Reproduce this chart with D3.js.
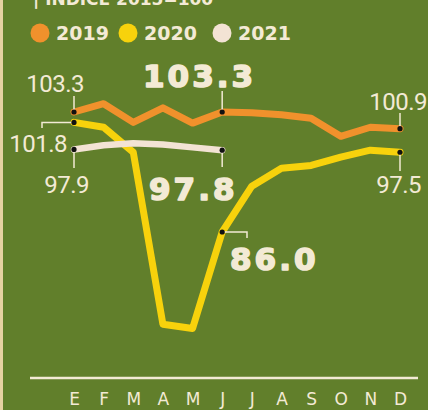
<!DOCTYPE html>
<html>
<head>
<meta charset="utf-8">
<script src="https://cdn.jsdelivr.net/npm/d3@7"></script>
<style>
  body { margin: 0; background: #617f2b; }
  svg { display: block; }
</style>
</head>
<body>
<svg id="chart"></svg>
<script>
const months = ["E", "F", "M", "A", "M", "J", "J", "A", "S", "O", "N", "D"];
const v2019 = [103.3, 104.5, 101.8, 103.9, 101.7, 103.3, 103.2, 102.9, 102.4, 99.8, 101.1, 100.9];
const v2020 = [101.8, 101.1, 97.5, 72.7, 72.1, 86.0, 92.6, 95.2, 95.6, 96.8, 97.8, 97.5];
const v2021 = [97.9, 98.5, 98.8, 98.6, 98.2, 97.8];
const years = ["2019", "2020", "2021"];

const w = 428;
const h = 410;
const colors = { "2019": "#f0912c", "2020": "#f7d20c", "2021": "#f3e3d4" };
const cream = "#f3ead5";

const svg = d3.select("#chart").attr("width", w).attr("height", h);

svg.append("rect").attr("width", w).attr("height", h).attr("fill", "#617f2b");
svg.append("rect").attr("width", 3).attr("height", h).attr("fill", "#e6d2a2");

const x = d3.scaleLinear().domain([0, 11]).range([74, 400]);
const y = d3.scaleLinear().domain([86, 103.3]).range([232, 112]);

// title, cut at the top like the original
svg.append("text")
  .attr("x", 33).attr("y", 5)
  .attr("fill", cream)
  .attr("font-family", "DejaVu Sans").attr("font-weight", "bold").attr("font-size", 17)
  .text("| INDICE 2015=100");

// legend
const legend = svg.append("g");
const lx = [40, 128, 222];
years.forEach((yr, i) => {
  legend.append("circle").attr("cx", lx[i]).attr("cy", 33).attr("r", 9.5).attr("fill", colors[yr]);
  legend.append("text")
    .attr("x", lx[i] + 16).attr("y", 40)
    .attr("fill", cream)
    .attr("font-family", "DejaVu Sans").attr("font-weight", "bold").attr("font-size", 19)
    .text(yr);
});

// axis
svg.append("line")
  .attr("x1", 30).attr("x2", 418).attr("y1", 378).attr("y2", 378)
  .attr("stroke", cream).attr("stroke-width", 2.5);

const xAxis = d3.axisBottom(x)
  .tickValues(d3.range(12))
  .tickFormat(i => months[i])
  .tickSize(0)
  .tickPadding(15);
const gx = svg.append("g")
  .attr("transform", "translate(0,378)")
  .call(xAxis);
gx.select(".domain").remove();
gx.selectAll("text")
  .attr("fill", cream)
  .attr("font-family", "DejaVu Sans")
  .attr("font-size", 17);

// lines
const line = d3.line()
  .x((d, i) => x(i))
  .y(d => y(d));

const series = [["2020", v2020, 7], ["2021", v2021, 6.5], ["2019", v2019, 7]];
series.forEach(([yr, vals, sw]) => {
  svg.append("path")
    .datum(vals)
    .attr("d", line)
    .attr("fill", "none")
    .attr("stroke", colors[yr])
    .attr("stroke-width", sw)
    .attr("stroke-linejoin", "round")
    .attr("stroke-linecap", "round");
});

// leaders
const leader = (pts) => svg.append("polyline")
  .attr("points", pts.map(p => p.join(",")).join(" "))
  .attr("fill", "none").attr("stroke", cream).attr("stroke-width", 1.5);

leader([[x(0), y(v2019[0])], [x(0), 96]]);
leader([[x(0), y(v2020[0])], [42, y(v2020[0])], [42, 128]]);
leader([[x(0), y(v2021[0])], [x(0), 168]]);
leader([[x(5), y(v2019[5])], [x(5), 91]]);
leader([[x(5), y(v2021[5])], [x(5), 167]]);
leader([[x(5), y(v2020[5])], [247, y(v2020[5])], [247, 238]]);
leader([[x(11), y(v2019[11])], [x(11), 113]]);
leader([[x(11), y(v2020[11])], [x(11), 171]]);

// dots
const dots = [[0, v2019[0]], [5, v2019[5]], [11, v2019[11]],
  [0, v2020[0]], [5, v2020[5]], [11, v2020[11]],
  [0, v2021[0]], [5, v2021[5]]];
svg.selectAll(".dot")
  .data(dots)
  .enter()
  .append("circle")
  .attr("class", "dot")
  .attr("cx", d => x(d[0]))
  .attr("cy", d => y(d[1]))
  .attr("r", 2.6)
  .attr("fill", "#111");

// small labels
const small = (tx, ty, anchor, val) => svg.append("text")
  .attr("x", tx).attr("y", ty)
  .attr("text-anchor", anchor)
  .attr("fill", cream)
  .attr("font-family", "Roboto, sans-serif")
  .attr("font-size", 24)
  .attr("letter-spacing", -0.5)
  .text(val.toFixed(1));

small(84, 92, "end", v2019[0]);
small(67, 152, "end", v2020[0]);
small(89, 193, "end", v2021[0]);
small(427, 110, "end", v2019[11]);
small(421, 193, "end", v2020[11]);

// big labels
const big = (tx, ty, val) => svg.append("text")
  .attr("x", tx).attr("y", ty)
  .attr("fill", cream)
  .attr("stroke", cream)
  .attr("stroke-width", 1.6)
  .attr("stroke-linejoin", "round")
  .attr("font-family", "DejaVu Sans")
  .attr("font-weight", "bold")
  .attr("font-size", 31)
  .attr("letter-spacing", 3)
  .text(val.toFixed(1));

big(143, 87, v2019[5]);
big(149, 200, v2021[5]);
big(230, 270, v2020[5]);
</script>
</body>
</html>
